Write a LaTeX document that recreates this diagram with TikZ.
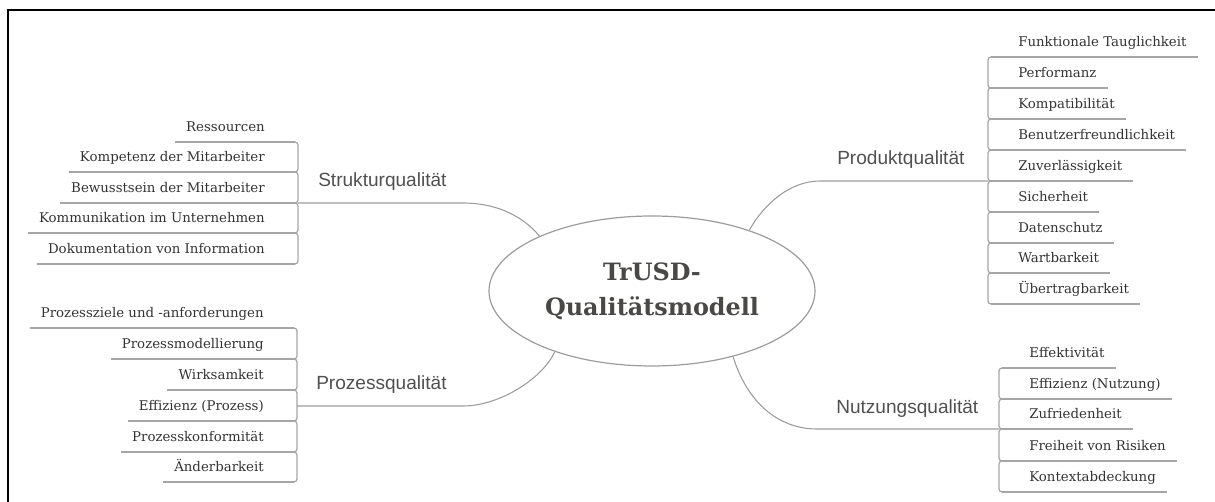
\documentclass[tikz,border=0pt]{standalone}
\usepackage{fontspec}
\setmainfont{DejaVu Serif}
\newfontfamily\labelfont{Liberation Sans}
\usetikzlibrary{shapes.geometric,calc}
\definecolor{linegray}{HTML}{9C9C9C}
\definecolor{leafgray}{HTML}{A6A6A6}
\definecolor{textdark}{HTML}{333333}
\definecolor{labeltext}{HTML}{505050}
\definecolor{centertext}{HTML}{4A4846}
\begin{document}
\begin{tikzpicture}[x=0.75pt,y=-0.75pt,
  conn/.style={draw=linegray, line width=0.8pt},
  uline/.style={draw=leafgray, line width=0.9pt},
  brk/.style={draw=leafgray, line width=0.9pt, rounded corners=2.25pt},
  leaf/.style={font=\fontsize{10}{12}\selectfont, text=textdark, inner xsep=8.25pt, inner ysep=0pt, text height=7.5pt, text depth=7.5pt},
  branchlabel/.style={font=\labelfont\fontsize{14.3}{16}\selectfont, text=labeltext, inner sep=0pt, anchor=base west},
  core/.style={ellipse, draw=linegray, line width=0.9pt, fill=white, minimum width=244.5pt, minimum height=112.5pt, inner sep=0pt, align=center, font=\bfseries\fontsize{17.9}{26}\selectfont, text=centertext}
  ]
\useasboundingbox (0,0) rectangle (1215,502);
% frame
\draw[line width=1.5pt] (8,502) -- (8,10) -- (1215,10);

% central node
\node[core] (core) at (652,291) {TrUSD-\\Qualitätsmodell};

% branch labels
\node[branchlabel] (slab) at (318,187) {Strukturqualität};
\node[branchlabel] (plab) at (837,165) {Produktqualität};
\node[branchlabel] (zlab) at (316,390) {Prozessqualität};
\node[branchlabel] (nlab) at (836,414) {Nutzungsqualität};

% ---------- Strukturqualität (left) ----------
\foreach \y/\t [count=\i] in {142/{Ressourcen}, 172/{Kompetenz der Mitarbeiter}, 203/{Bewusstsein der Mitarbeiter}, 233/{Kommunikation im Unternehmen}, 264/{Dokumentation von Information}} {
  \coordinate (sj\i) at (298,\y);
  \node[leaf, anchor=south east] (sn\i) at ($(sj\i)+(-22,0)$) {\t};
  \draw[uline] (sn\i.south west) -- ($(sj\i)+(-3,0)$);
}
\foreach \i/\j in {1/2,2/3,3/4,4/5}
  \draw[brk] ($(sj\i)+(-3,0)$) -- (sj\i) -- (sj\j) -- ($(sj\j)+(-3,0)$);
\coordinate (sbend) at (463,203);
\draw[conn] (core.154) .. controls (522,215) and (495,203) .. (sbend) -- (sj3);

% ---------- Prozessqualität (left) ----------
\foreach \y/\t [count=\i] in {328/{Prozessziele und -anforderungen}, 359/{Prozessmodellierung}, 390/{Wirksamkeit}, 421/{Effizienz (Prozess)}, 452/{Prozesskonformität}, 482/{Änderbarkeit}} {
  \coordinate (zj\i) at (297,\y);
  \node[leaf, anchor=south east] (zn\i) at ($(zj\i)+(-22,0)$) {\t};
  \draw[uline] (zn\i.south west) -- ($(zj\i)+(-3,0)$);
}
\foreach \i/\j in {1/2,2/3,3/4,4/5,5/6}
  \draw[brk] ($(zj\i)+(-3,0)$) -- (zj\i) -- (zj\j) -- ($(zj\j)+(-3,0)$);
\coordinate (zjm) at (297,406);
\coordinate (zbend) at (463,406);
\draw[conn] (core.212) .. controls (543,378) and (500,406) .. (zbend) -- (zjm);

% ---------- Produktqualität (right) ----------
\foreach \y/\t [count=\i] in {57/{Funktionale Tauglichkeit}, 88/{Performanz}, 119/{Kompatibilität}, 150/{Benutzerfreundlichkeit}, 181/{Zuverlässigkeit}, 212/{Sicherheit}, 243/{Datenschutz}, 273/{Wartbarkeit}, 304/{Übertragbarkeit}} {
  \coordinate (pj\i) at (988,\y);
  \node[leaf, anchor=south west] (pn\i) at ($(pj\i)+(19,0)$) {\t};
  \draw[uline] (pn\i.south east) -- ($(pj\i)+(3,0)$);
}
\foreach \i/\j in {1/2,2/3,3/4,4/5,5/6,6/7,7/8,8/9}
  \draw[brk] ($(pj\i)+(3,0)$) -- (pj\i) -- (pj\j) -- ($(pj\j)+(3,0)$);
\coordinate (pbend) at (820,181);
\draw[conn] (core.32) .. controls (764,204) and (790,181) .. (pbend) -- (pj5);

% ---------- Nutzungsqualität (right) ----------
\foreach \y/\t [count=\i] in {368/{Effektivität}, 399/{Effizienz (Nutzung)}, 429/{Zufriedenheit}, 461/{Freiheit von Risiken}, 492/{Kontextabdeckung}} {
  \coordinate (nj\i) at (999,\y);
  \node[leaf, anchor=south west] (nn\i) at ($(nj\i)+(19,0)$) {\t};
  \draw[uline] (nn\i.south east) -- ($(nj\i)+(3,0)$);
}
\foreach \i/\j in {1/2,2/3,3/4,4/5}
  \draw[brk] ($(nj\i)+(3,0)$) -- (nj\i) -- (nj\j) -- ($(nj\j)+(3,0)$);
\coordinate (nbend) at (817,429);
\draw[conn] (core.321) .. controls (747,402) and (778,429) .. (nbend) -- (nj3);
\end{tikzpicture}
\end{document}
